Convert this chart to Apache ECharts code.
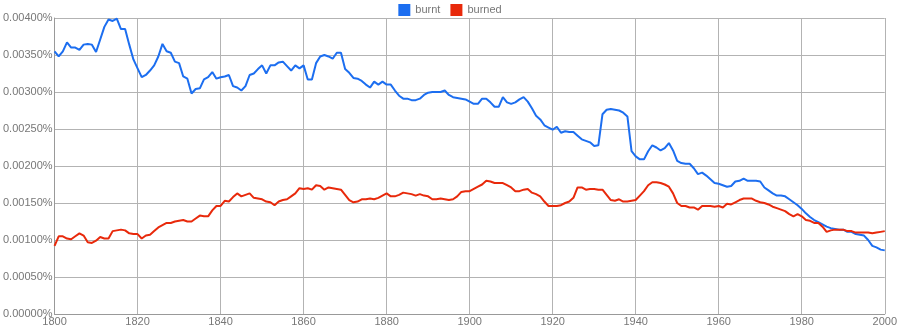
<!DOCTYPE html>
<html>
<head>
<meta charset="utf-8">
<script src="https://cdn.jsdelivr.net/npm/echarts@6/dist/echarts.min.js"></script>
<style>html,body{margin:0;padding:0;background:#fff}#c{width:900px;height:330px}</style>
</head>
<body>
<div id="c"></div>
<script>
var startYear = 1800;
var seriesNames = ['burnt', 'burned'];
var xTicks = [1800, 1820, 1840, 1860, 1880, 1900, 1920, 1940, 1960, 1980, 2000];
var burnt = [
0.00355,0.00348,0.00355,0.00367,0.00360,0.00360,0.00357,0.00364,0.00365,0.00364,
0.00354,0.00371,0.00388,0.00398,0.00396,0.00399,0.00385,0.00385,0.00364,0.00344,
0.00332,0.00320,0.00323,0.00329,0.00336,0.00348,0.00365,0.00355,0.00353,0.00341,
0.00339,0.00321,0.00318,0.00298,0.00304,0.00305,0.00317,0.00320,0.00327,0.00318,
0.00320,0.00321,0.00323,0.00308,0.00306,0.00302,0.00308,0.00323,0.00325,0.00331,
0.00336,0.00325,0.00336,0.00336,0.00340,0.00341,0.00335,0.00329,0.00336,0.00332,
0.00336,0.00317,0.00317,0.00339,0.00348,0.00350,0.00348,0.00345,0.00353,0.00353,
0.00331,0.00326,0.00319,0.00318,0.00315,0.00310,0.00306,0.00314,0.00310,0.00314,
0.00310,0.00310,0.00302,0.00295,0.00291,0.00291,0.00289,0.00289,0.00291,0.00296,
0.00299,0.00300,0.00300,0.00300,0.00302,0.00296,0.00293,0.00292,0.00291,0.00290,
0.00287,0.00284,0.00284,0.00291,0.00291,0.00286,0.00280,0.00280,0.00293,0.00286,
0.00284,0.00286,0.00290,0.00293,0.00287,0.00278,0.00268,0.00263,0.00255,0.00252,
0.00249,0.00253,0.00245,0.00247,0.00246,0.00246,0.00241,0.00236,0.00234,0.00232,
0.00227,0.00228,0.00270,0.00276,0.00277,0.00276,0.00275,0.00272,0.00267,0.00220,
0.00213,0.00209,0.00209,0.00220,0.00228,0.00225,0.00221,0.00224,0.00231,0.00221,
0.00207,0.00204,0.00203,0.00203,0.00197,0.00189,0.00191,0.00187,0.00182,0.00177,
0.00176,0.00174,0.00172,0.00173,0.00179,0.00180,0.00183,0.00180,0.00180,0.00180,
0.00179,0.00171,0.00167,0.00163,0.00160,0.00160,0.00159,0.00155,0.00151,0.00147,
0.00142,0.00136,0.00131,0.00127,0.00124,0.00121,0.00118,0.00116,0.00115,0.00114,
0.00114,0.00111,0.00111,0.00108,0.00107,0.00106,0.00100,0.00092,0.00090,0.00087,
0.00086];
var burned = [
0.00092,0.00105,0.00105,0.00102,0.00101,0.00105,0.00109,0.00106,0.00097,0.00096,
0.00099,0.00104,0.00102,0.00102,0.00112,0.00113,0.00114,0.00113,0.00109,0.00108,
0.00108,0.00102,0.00106,0.00107,0.00112,0.00117,0.00120,0.00123,0.00123,0.00125,
0.00126,0.00127,0.00125,0.00125,0.00129,0.00133,0.00132,0.00132,0.00140,0.00146,
0.00146,0.00153,0.00152,0.00158,0.00163,0.00159,0.00161,0.00163,0.00157,0.00156,
0.00155,0.00152,0.00151,0.00147,0.00152,0.00154,0.00155,0.00159,0.00163,0.00170,
0.00169,0.00170,0.00168,0.00174,0.00173,0.00168,0.00171,0.00170,0.00169,0.00168,
0.00161,0.00154,0.00151,0.00152,0.00155,0.00155,0.00156,0.00155,0.00157,0.00160,
0.00163,0.00159,0.00159,0.00161,0.00164,0.00163,0.00162,0.00160,0.00162,0.00160,
0.00159,0.00155,0.00155,0.00156,0.00155,0.00154,0.00155,0.00159,0.00165,0.00166,
0.00166,0.00169,0.00172,0.00175,0.00180,0.00179,0.00177,0.00177,0.00177,0.00174,
0.00171,0.00166,0.00166,0.00168,0.00169,0.00164,0.00162,0.00159,0.00152,0.00146,
0.00146,0.00146,0.00147,0.00150,0.00152,0.00157,0.00171,0.00171,0.00168,0.00169,
0.00169,0.00168,0.00168,0.00161,0.00154,0.00153,0.00155,0.00152,0.00152,0.00153,
0.00154,0.00160,0.00166,0.00174,0.00178,0.00178,0.00177,0.00175,0.00172,0.00163,
0.00150,0.00146,0.00146,0.00144,0.00144,0.00141,0.00146,0.00146,0.00146,0.00145,
0.00146,0.00144,0.00149,0.00148,0.00151,0.00154,0.00156,0.00156,0.00156,0.00153,
0.00151,0.00150,0.00148,0.00145,0.00143,0.00141,0.00139,0.00135,0.00132,0.00135,
0.00132,0.00127,0.00126,0.00123,0.00123,0.00118,0.00111,0.00113,0.00114,0.00114,
0.00114,0.00112,0.00112,0.00110,0.00110,0.00110,0.00110,0.00109,0.00110,0.00111,
0.00112];
var yTicks = [0, 0.0005, 0.001, 0.0015, 0.002, 0.0025, 0.003, 0.0035, 0.004];

function pairs(arr) {
  return arr.map(function (v, i) { return [startYear + i, v]; });
}

var chart = echarts.init(document.getElementById('c'), null, {renderer: 'canvas'});
var font = 'Liberation Sans, Arial, sans-serif';
chart.setOption({
  animation: false,
  textStyle: {fontFamily: font},
  legend: {
    data: seriesNames,
    top: -1,
    left: 'center',
    icon: 'rect',
    itemWidth: 12,
    itemHeight: 12,
    itemGap: 10,
    textStyle: {color: '#777', fontSize: 11, fontFamily: font}
  },
  grid: {left: 53, right: 14, top: 18, bottom: 16, containLabel: false},
  xAxis: {
    type: 'value',
    min: xTicks[0],
    max: xTicks[xTicks.length - 1],
    interval: 20,
    axisLine: {show: true, lineStyle: {color: '#999', width: 1}},
    axisTick: {show: false},
    axisLabel: {color: '#777', fontSize: 11, margin: 2, fontFamily: font,
      formatter: function (v) { return String(v); }},
    splitLine: {show: true, lineStyle: {color: '#b3b3b3', width: 1}}
  },
  yAxis: {
    type: 'value',
    min: yTicks[0],
    max: yTicks[yTicks.length - 1],
    interval: 0.0005,
    axisLine: {show: true, lineStyle: {color: '#999', width: 1}},
    axisTick: {show: false},
    axisLabel: {color: '#777', fontSize: 11, margin: 2, fontFamily: font,
      formatter: function (v) { return v.toFixed(5) + '%'; }},
    splitLine: {show: true, lineStyle: {color: '#b3b3b3', width: 1}}
  },
  series: [
    {name: seriesNames[0], type: 'line', data: pairs(burnt), showSymbol: false, symbol: 'none',
      itemStyle: {color: '#1c6ef0'}, lineStyle: {color: '#1c6ef0', width: 2}},
    {name: seriesNames[1], type: 'line', data: pairs(burned), showSymbol: false, symbol: 'none',
      itemStyle: {color: '#e8290b'}, lineStyle: {color: '#e8290b', width: 2}}
  ]
});
</script>
</body>
</html>
